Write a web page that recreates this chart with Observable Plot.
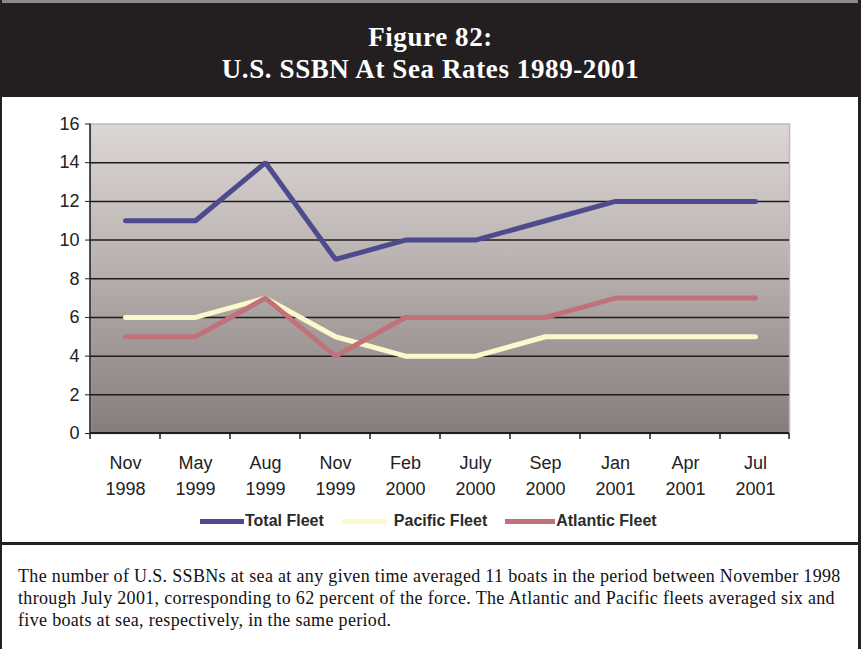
<!DOCTYPE html>
<html>
<head>
<meta charset="utf-8">
<script src="https://cdn.jsdelivr.net/npm/d3@7"></script>
<script src="https://cdn.jsdelivr.net/npm/@observablehq/plot@0.6"></script>
<style>
  html, body { margin: 0; padding: 0; background: #fff; }
  #wrap { position: relative; width: 861px; height: 649px; overflow: hidden; background: #fff; }
  #topline { position: absolute; left: 0; top: 0; width: 861px; height: 3px; background: #8a8a8a; }
  #header { position: absolute; left: 0; top: 3px; width: 861px; height: 94px; background: #231f20; color: #fff;
    font-family: "Liberation Serif", "DejaVu Serif", serif; font-weight: bold; font-size: 27px; letter-spacing: 0.6px;
    text-align: center; line-height: 32px; box-sizing: border-box; padding-top: 18px; }
  #chart { position: absolute; left: 0; top: 97px; }
  #legend { position: absolute; top: 512px; left: 200px; display: flex; align-items: center;
    font-family: "Liberation Sans", Arial, sans-serif; font-weight: bold; font-size: 16px; color: #2a2a2a; }
  .item { display: flex; align-items: center; }
  .sw { display: inline-block; height: 5px; }
  #divider { position: absolute; left: 0; top: 542px; width: 861px; height: 3px; background: #231f20; }
  #caption { position: absolute; left: 18px; top: 565px; width: 840px; font-family: "Liberation Serif", "DejaVu Serif", serif;
    font-size: 18px; letter-spacing: 0.33px; line-height: 22px; color: #111; white-space: nowrap; }
  .bl { position: absolute; left: 0; top: 0; width: 2px; height: 649px; background: #231f20; }
  .br { position: absolute; right: 0; top: 0; width: 3px; height: 649px; background: #231f20; }
</style>
</head>
<body>
<div id="wrap">
  <div id="topline"></div>
  <div id="header">Figure 82:<br>U.S. SSBN At Sea Rates 1989-2001</div>
  <div id="chart"></div>
  <div id="legend"></div>
  <div id="divider"></div>
  <div id="caption">The number of U.S. SSBNs at sea at any given time averaged 11 boats in the period between November 1998<br>through July 2001, corresponding to 62 percent of the force. The Atlantic and Pacific fleets averaged six and<br>five boats at sea, respectively, in the same period.</div>
  <div class="bl"></div>
  <div class="br"></div>
</div>
<script>
const months = ["Nov", "May", "Aug", "Nov", "Feb", "July", "Sep", "Jan", "Apr", "Jul"];
const years = ["1998", "1999", "1999", "1999", "2000", "2000", "2000", "2001", "2001", "2001"];
const totalFleet = [11, 11, 14, 9, 10, 10, 11, 12, 12, 12];
const pacificFleet = [6, 6, 7, 5, 4, 4, 5, 5, 5, 5];
const atlanticFleet = [5, 5, 7, 4, 6, 6, 6, 7, 7, 7];
const yTicks = [0, 2, 4, 6, 8, 10, 12, 14, 16];
const seriesNames = ["Total Fleet", "Pacific Fleet", "Atlantic Fleet"];
const seriesColors = ["#4d4b8e", "#fcf8cc", "#c0727a"];

const cats = months.map((m, i) => m + " " + years[i]);
const seriesValues = [totalFleet, pacificFleet, atlanticFleet];
const data = seriesValues.flatMap((vals, s) => vals.map((v, i) => ({cat: cats[i], value: v, series: seriesNames[s]})));

const defs = () => {
  const d = d3.create("svg:defs");
  const g = d.append("linearGradient").attr("id", "bgGrad").attr("x1", 0).attr("y1", 0).attr("x2", 0).attr("y2", 1);
  g.append("stop").attr("offset", "0%").attr("stop-color", "#dcd6d4");
  g.append("stop").attr("offset", "45%").attr("stop-color", "#b9b2b0");
  g.append("stop").attr("offset", "100%").attr("stop-color", "#857d7b");
  return d.node();
};

const axisDecor = (index, scales, values, dims) => {
  const g = d3.create("svg:g");
  const xs = cats.map(c => scales.x(c));
  const step = xs[1] - xs[0];
  const left = dims.marginLeft;
  const right = dims.width - dims.marginRight;
  const bounds = [left, ...xs.slice(0, -1).map(x => x + step / 2), right];
  const y0 = scales.y(0);
  const yTop = scales.y(16);
  g.append("line").attr("x1", left).attr("x2", right)
    .attr("y1", y0).attr("y2", y0).attr("stroke", "#1e1e1e").attr("stroke-width", 2);
  g.append("line").attr("x1", left).attr("x2", left)
    .attr("y1", yTop).attr("y2", y0 + 1).attr("stroke", "#1e1e1e").attr("stroke-width", 1.5);
  for (const b of bounds) {
    g.append("line").attr("x1", b).attr("x2", b).attr("y1", y0).attr("y2", y0 + 6)
      .attr("stroke", "#1e1e1e").attr("stroke-width", 1.5);
  }
  return g.node();
};

const plot = Plot.plot({
  width: 861,
  height: 410,
  marginTop: 26.5,
  marginBottom: 74,
  marginLeft: 90,
  marginRight: 72,
  style: {fontFamily: "'Liberation Sans', Arial, sans-serif", background: "transparent"},
  x: {type: "point", domain: cats, padding: 0.47},
  y: {domain: [0, 16]},
  marks: [
    defs,
    Plot.frame({fill: "url(#bgGrad)", stroke: "#bdb8b6", strokeWidth: 1.5}),
    Plot.ruleY(yTicks.filter(t => t > 0 && t < 16), {stroke: "#1c1c1c", strokeWidth: 1.5}),
    axisDecor,
    Plot.axisY({ticks: yTicks, tickSize: 5, tickPadding: 6, fontSize: 18, color: "#222", label: null, tickFormat: d => d}),
    Plot.axisX({tickSize: 0, tickPadding: 17, fontSize: 18, color: "#222", label: null, lineHeight: 1.45,
      tickFormat: d => d.replace(" ", "\n")}),
    ...seriesNames.map((name, s) => Plot.line(data.filter(d => d.series === name), {
      x: "cat", y: "value", stroke: seriesColors[s], strokeWidth: 5, strokeLinejoin: "miter"
    }))
  ]
});
document.getElementById("chart").appendChild(plot);

const swWidths = [44, 45, 50];
const legend = document.getElementById("legend");
seriesNames.forEach((name, s) => {
  const item = document.createElement("div");
  item.className = "item";
  item.style.marginRight = "18px";
  const sw = document.createElement("span");
  sw.className = "sw";
  sw.style.width = swWidths[s] + "px";
  sw.style.background = seriesColors[s];
  sw.style.marginRight = s === 1 ? "7px" : "1px";
  const t = document.createElement("span");
  t.textContent = name;
  item.appendChild(sw);
  item.appendChild(t);
  legend.appendChild(item);
});
</script>
</body>
</html>
